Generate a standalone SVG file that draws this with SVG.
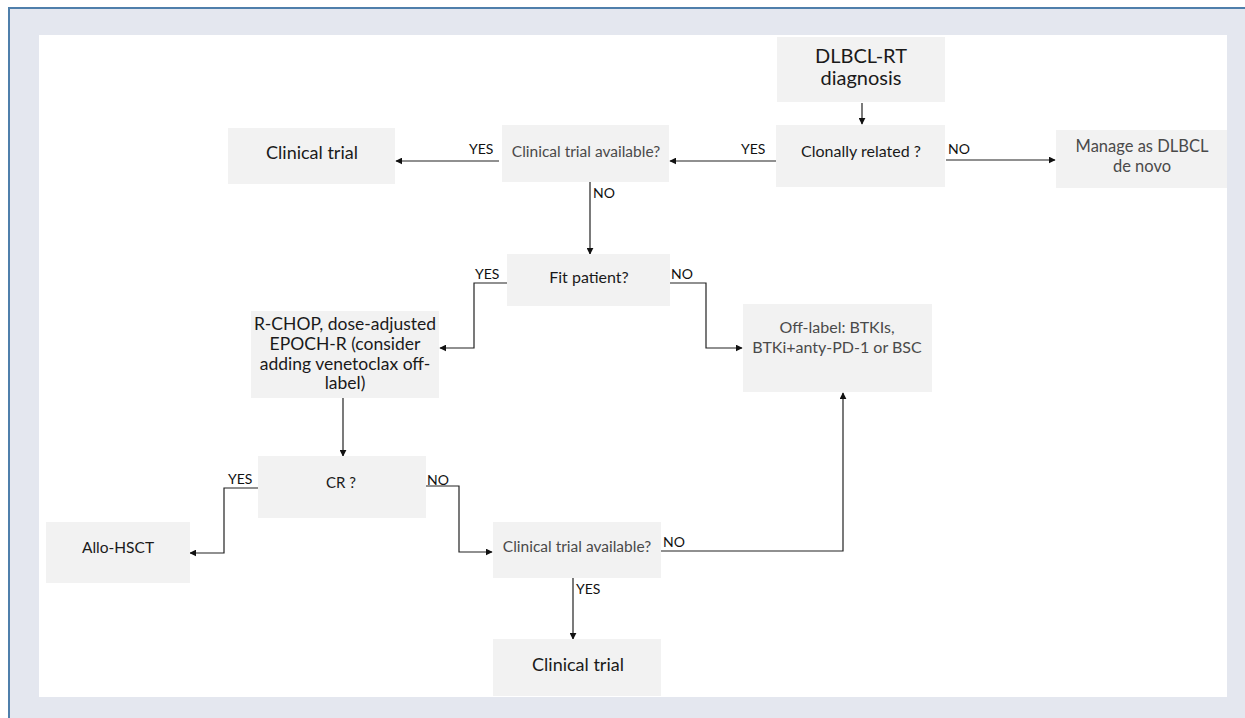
<svg xmlns="http://www.w3.org/2000/svg" width="1245" height="718" viewBox="0 0 1245 718">
<style>
.box{fill:#f2f2f2}
.t{font-family:Lato,"Liberation Sans",sans-serif;text-anchor:middle}
.dark{fill:#1a1a1a}
.gray{fill:#4a4a4a}
.lbl{font-family:Lato,"Liberation Sans",sans-serif;font-size:14px;fill:#111}
.c{fill:none;stroke:#222;stroke-width:1.2}
</style>
<defs>
<marker id="ah" viewBox="0 0 10 10" refX="9" refY="5" markerWidth="7" markerHeight="7" markerUnits="userSpaceOnUse" orient="auto">
<path d="M0,0 L10,5 L0,10 z" fill="#111"/>
</marker>
</defs>
<rect x="0" y="0" width="1245" height="718" fill="#ffffff"/>
<rect x="9" y="8" width="1240" height="715" fill="#e4e7ef" stroke="#4f7fab" stroke-width="2"/>
<rect x="39" y="35" width="1188" height="662" fill="#ffffff"/>

<g id="connectors">
<path class="c" d="M862,103 V124" marker-end="url(#ah)"/>
<path class="c" d="M776,161 H670" marker-end="url(#ah)"/>
<path class="c" d="M499,161 H396" marker-end="url(#ah)"/>
<path class="c" d="M946,160 H1055" marker-end="url(#ah)"/>
<path class="c" d="M590,182 V254" marker-end="url(#ah)"/>
<path class="c" d="M507,283 H474 V348 H440" marker-end="url(#ah)"/>
<path class="c" d="M670,283 H706 V348 H742" marker-end="url(#ah)"/>
<path class="c" d="M343,398 V456" marker-end="url(#ah)"/>
<path class="c" d="M258,488 H224 V553 H190" marker-end="url(#ah)"/>
<path class="c" d="M426,486 H459 V552 H492" marker-end="url(#ah)"/>
<path class="c" d="M661,551 H843 V393" marker-end="url(#ah)"/>
<path class="c" d="M573,578 V639" marker-end="url(#ah)"/>
<text class="lbl" x="469" y="154">YES</text>
<text class="lbl" x="741" y="154">YES</text>
<text class="lbl" x="948" y="154">NO</text>
<text class="lbl" x="593" y="198">NO</text>
<text class="lbl" x="475" y="279">YES</text>
<text class="lbl" x="671" y="279">NO</text>
<text class="lbl" x="228" y="484">YES</text>
<text class="lbl" x="427" y="485">NO</text>
<text class="lbl" x="663" y="547">NO</text>
<text class="lbl" x="576" y="594">YES</text>
</g>

<g id="n-diagnosis">
<rect class="box" x="777" y="37" width="168" height="65"/>
<text class="t dark" x="861" y="63" font-size="20">DLBCL-RT</text>
<text class="t dark" x="861" y="85" font-size="20">diagnosis</text>
</g>
<g id="n-clonal">
<rect class="box" x="776" y="125" width="169" height="62"/>
<text class="t dark" x="861" y="157" font-size="16">Clonally related ?</text>
</g>
<g id="n-denovo">
<rect class="box" x="1056" y="130" width="171" height="58"/>
<text class="t gray" x="1142" y="152" font-size="16.5">Manage as DLBCL</text>
<text class="t gray" x="1142" y="172" font-size="16.5">de novo</text>
</g>
<g id="n-trial-q1">
<rect class="box" x="502" y="125" width="167" height="57"/>
<text class="t gray" x="586" y="157" font-size="15.5">Clinical trial available?</text>
</g>
<g id="n-trial1">
<rect class="box" x="228" y="128" width="167" height="56"/>
<text class="t dark" x="312" y="159" font-size="18">Clinical trial</text>
</g>
<g id="n-fit">
<rect class="box" x="507" y="254" width="163" height="52"/>
<text class="t dark" x="589" y="283" font-size="16">Fit patient?</text>
</g>
<g id="n-rchop">
<rect class="box" x="251" y="311" width="188" height="87"/>
<text class="t dark" x="345" y="330" font-size="17.5">R-CHOP, dose-adjusted</text>
<text class="t dark" x="345" y="350" font-size="17.5">EPOCH-R (consider</text>
<text class="t dark" x="345" y="370" font-size="17.5">adding venetoclax off-</text>
<text class="t dark" x="345" y="389" font-size="17.5">label)</text>
</g>
<g id="n-offlabel">
<rect class="box" x="743" y="304" width="189" height="88"/>
<text class="t gray" x="837" y="333" font-size="16">Off-label: BTKIs,</text>
<text class="t gray" x="837" y="353" font-size="16">BTKi+anty-PD-1 or BSC</text>
</g>
<g id="n-cr">
<rect class="box" x="258" y="456" width="168" height="62"/>
<text class="t dark" x="341" y="488" font-size="15">CR ?</text>
</g>
<g id="n-allo">
<rect class="box" x="46" y="522" width="144" height="61"/>
<text class="t dark" x="118" y="553" font-size="15.5">Allo-HSCT</text>
</g>
<g id="n-trial-q2">
<rect class="box" x="493" y="522" width="168" height="56"/>
<text class="t gray" x="577" y="552" font-size="15.5">Clinical trial available?</text>
</g>
<g id="n-trial2">
<rect class="box" x="493" y="639" width="168" height="57"/>
<text class="t dark" x="578" y="671" font-size="18">Clinical trial</text>
</g>
</svg>
